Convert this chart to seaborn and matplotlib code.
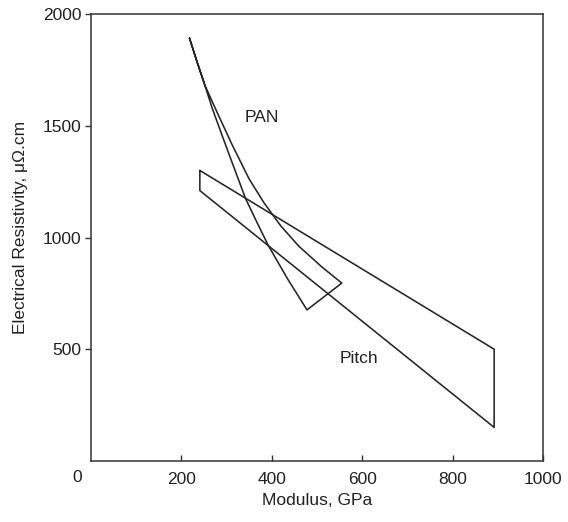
import pandas as pd
import matplotlib
matplotlib.use("Agg")
import matplotlib.pyplot as plt
import seaborn as sns

# PAN band: left edge (top -> bottom vertex), right edge (top -> right vertex)
pan_left_x = [218, 235, 252, 269, 294, 318, 342, 368, 392, 435, 478]
pan_left_y = [1893, 1785, 1682, 1575, 1436, 1305, 1175, 1065, 966, 815, 676]
pan_right_x = [218, 235, 252, 277, 311, 350, 383, 420, 460, 511, 555]
pan_right_y = [1893, 1785, 1682, 1570, 1421, 1262, 1155, 1052, 961, 868, 796]

# Pitch band corners
pitch_x = [241, 892, 892, 241, 241]
pitch_y = [1300, 500, 150, 1210, 1300]

x_ticks = [200, 400, 600, 800, 1000]
y_ticks = [500, 1000, 1500, 2000]

sns.set_style("ticks")
plt.rcParams['font.family'] = ['Liberation Sans', 'DejaVu Sans']

pan = pd.DataFrame({
    "Modulus": pan_left_x + pan_right_x[::-1],
    "Resistivity": pan_left_y + pan_right_y[::-1],
})
pitch = pd.DataFrame({"Modulus": pitch_x, "Resistivity": pitch_y})

fig = plt.figure(figsize=(5.68, 5.22), dpi=100)
ax = fig.add_axes([0.160, 0.117, 0.796, 0.856])

line_col = "#262626"
sns.lineplot(data=pan, x="Modulus", y="Resistivity", sort=False, estimator=None,
             color=line_col, lw=1.15, ax=ax)
sns.lineplot(data=pitch, x="Modulus", y="Resistivity", sort=False, estimator=None,
             color=line_col, lw=1.15, ax=ax)

ax.text(378, 1535, "PAN", fontsize=12.5, ha="center", va="center", color="#222222")
ax.text(592, 459, "Pitch", fontsize=12.5, ha="center", va="center", color="#222222")

ax.set_xlim(0, 1000)
ax.set_ylim(0, 2000)
ax.set_xticks(x_ticks)
ax.set_yticks(y_ticks)
ax.tick_params(axis="x", direction="in", length=4, width=1, labelsize=12.5, pad=8,
               colors="#333333", labelcolor="#222222")
ax.tick_params(axis="y", direction="out", length=4, width=1, labelsize=12.5, pad=3,
               colors="#333333", labelcolor="#222222")
ax.text(-0.03, -0.038, "0", transform=ax.transAxes, fontsize=12.5, ha="center",
        va="center", color="#222222")

for s in ax.spines.values():
    s.set_visible(True)
    s.set_linewidth(1.1)
    s.set_color("#333333")

ax.set_xlabel("Modulus, GPa", fontsize=12.5, color="#222222", labelpad=4)
ax.set_ylabel("Electrical Resistivity, \u03bc\u03a9.cm", fontsize=12.5, color="#222222")
ax.yaxis.set_label_coords(-0.140, 0.523)

fig.savefig("out.png", dpi=100)
